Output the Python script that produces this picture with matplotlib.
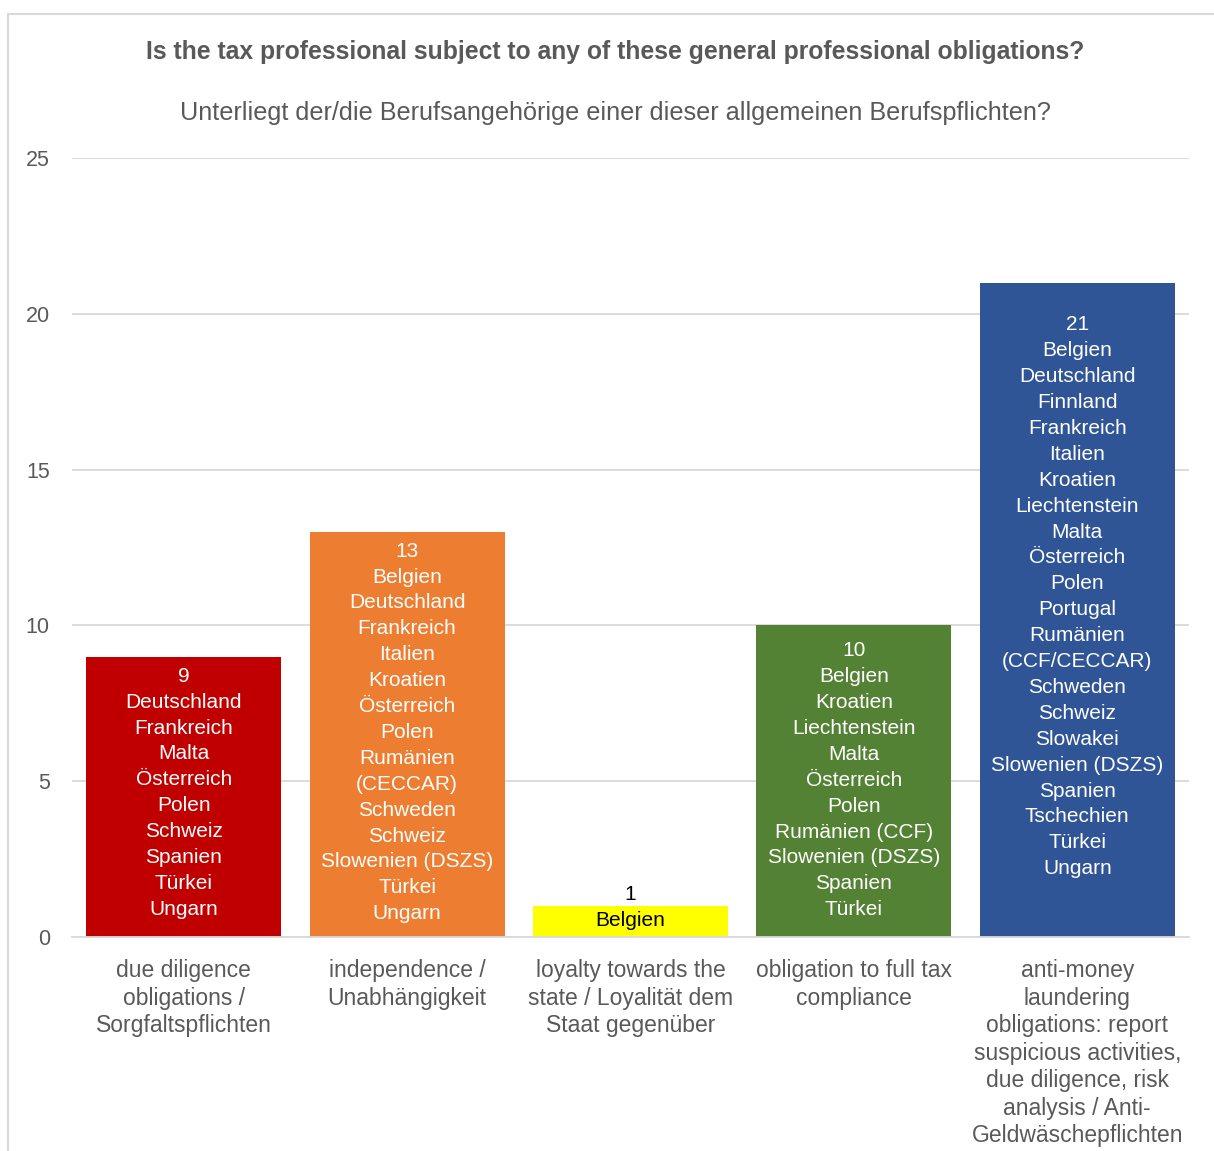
import matplotlib
matplotlib.use("Agg")
import matplotlib.pyplot as plt
from matplotlib.patches import Rectangle

plt.rcParams['font.family'] = ['Liberation Sans', 'DejaVu Sans']

categories = [
    "due diligence\nobligations /\nSorgfaltspflichten",
    "independence /\nUnabhängigkeit",
    "loyalty towards the\nstate / Loyalität dem\nStaat gegenüber",
    "obligation to full tax\ncompliance",
    "anti-money\nlaundering\nobligations: report\nsuspicious activities,\ndue diligence, risk\nanalysis / Anti-\nGeldwäschepflichten",
]
values = [9, 13, 1, 10, 21]
countries = [
    ["Deutschland", "Frankreich", "Malta", "Österreich", "Polen", "Schweiz", "Spanien", "Türkei", "Ungarn"],
    ["Belgien", "Deutschland", "Frankreich", "Italien", "Kroatien", "Österreich", "Polen", "Rumänien",
     "(CECCAR)", "Schweden", "Schweiz", "Slowenien (DSZS)", "Türkei", "Ungarn"],
    ["Belgien"],
    ["Belgien", "Kroatien", "Liechtenstein", "Malta", "Österreich", "Polen", "Rumänien (CCF)",
     "Slowenien (DSZS)", "Spanien", "Türkei"],
    ["Belgien", "Deutschland", "Finnland", "Frankreich", "Italien", "Kroatien", "Liechtenstein", "Malta",
     "Österreich", "Polen", "Portugal", "Rumänien", "(CCF/CECCAR)", "Schweden", "Schweiz", "Slowakei",
     "Slowenien (DSZS)", "Spanien", "Tschechien", "Türkei", "Ungarn"],
]
colors = ["#C00000", "#ED7D31", "#FFFF00", "#548235", "#2F5597"]
text_colors = ["white", "white", "black", "white", "white"]
yticks = [0, 5, 10, 15, 20, 25]

title = "Is the tax professional subject to any of these general professional obligations?"
subtitle = "Unterliegt der/die Berufsangehörige einer dieser allgemeinen Berufspflichten?"

# label placement style (pixels above bar middle)
label_shift_px = [4, 2, 14, 1, 13]

W, H = 1214, 1151
fig = plt.figure(figsize=(W / 100, H / 100), dpi=100)
ax = fig.add_axes([72 / W, 1 - 937 / H, (1189 - 72) / W, (937 - 158) / H])

x = list(range(len(values)))
ax.bar(x, values, width=0.873, color=colors, zorder=3)
ax.set_xlim(-0.5, len(values) - 0.5)
ax.set_ylim(0, 25)
ax.set_yticks(yticks)
ax.set_yticklabels([str(t) for t in yticks], fontsize=15.5, color="#595959")
ax.tick_params(axis='y', length=0, pad=16)
ax.set_xticks(x)
ax.set_xticklabels(categories, fontsize=16.5, color="#595959", linespacing=1.25)
ax.tick_params(axis='x', length=0, pad=16)
ax.grid(axis='y', color="#D9D9D9", linewidth=1.3, zorder=0)
for s in ["top", "right", "left"]:
    ax.spines[s].set_visible(False)
ax.spines["bottom"].set_color("#D9D9D9")
ax.spines["bottom"].set_linewidth(1.3)
ax.spines["bottom"].set_zorder(4)

for i, (v, names) in enumerate(zip(values, countries)):
    txt = "\n".join([str(v)] + names)
    ax.annotate(txt, (i, v / 2), xytext=(0, label_shift_px[i] * 0.72), textcoords="offset points",
                ha="center", va="center", fontsize=15, color=text_colors[i],
                linespacing=1.46, zorder=5)

fig.text(615 / W, 1 - 52 / H, title, ha="center", va="center", fontsize=17.8,
         fontweight="bold", color="#595959")
fig.text(615 / W, 1 - 113 / H, subtitle, ha="center", va="center", fontsize=18.2,
         color="#595959")

border = Rectangle((8 / W, -0.1), 1.2, 1.1 - 14 / H, transform=fig.transFigure,
                   fill=False, edgecolor="#D9D9D9", linewidth=1.5)
fig.patches.append(border)

fig.savefig("out.png", dpi=100)
